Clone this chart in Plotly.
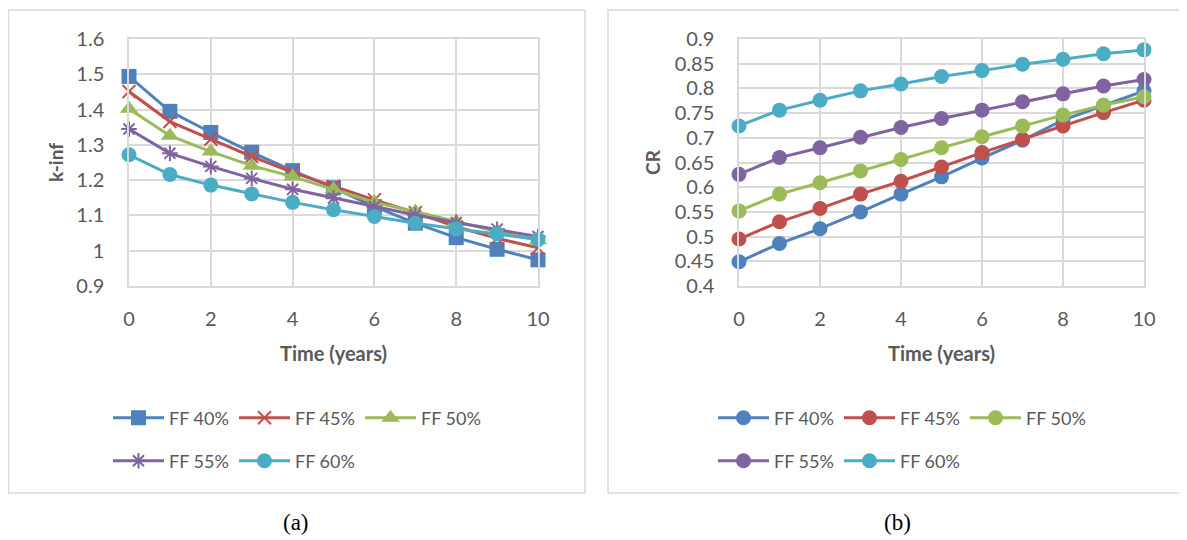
import plotly.graph_objects as go

# ---------------- data ----------------
years = [0, 1, 2, 3, 4, 5, 6, 7, 8, 9, 10]
series_names = ["FF 40%", "FF 45%", "FF 50%", "FF 55%", "FF 60%"]

kinf_ff40 = [1.494, 1.395, 1.335, 1.279, 1.227, 1.178, 1.125, 1.078, 1.037, 1.004, 0.974]
kinf_ff45 = [1.451, 1.366, 1.316, 1.267, 1.222, 1.182, 1.144, 1.108, 1.068, 1.035, 1.008]
kinf_ff50 = [1.402, 1.326, 1.281, 1.241, 1.210, 1.174, 1.137, 1.111, 1.083, 1.054, 1.030]
kinf_ff55 = [1.345, 1.276, 1.239, 1.205, 1.174, 1.149, 1.125, 1.101, 1.080, 1.061, 1.040]
kinf_ff60 = [1.272, 1.216, 1.186, 1.161, 1.137, 1.116, 1.097, 1.078, 1.062, 1.048, 1.032]

cr_ff40 = [0.449, 0.486, 0.516, 0.550, 0.586, 0.621, 0.659, 0.695, 0.736, 0.766, 0.795]
cr_ff45 = [0.495, 0.530, 0.557, 0.586, 0.612, 0.641, 0.670, 0.697, 0.724, 0.751, 0.776]
cr_ff50 = [0.552, 0.586, 0.609, 0.633, 0.656, 0.680, 0.702, 0.724, 0.746, 0.766, 0.783]
cr_ff55 = [0.626, 0.660, 0.680, 0.701, 0.721, 0.739, 0.756, 0.773, 0.789, 0.805, 0.818]
cr_ff60 = [0.724, 0.756, 0.776, 0.795, 0.809, 0.824, 0.836, 0.849, 0.859, 0.870, 0.878]

x_ticks = [0, 2, 4, 6, 8, 10]
x_ticklabels = ["0", "2", "4", "6", "8", "10"]
kinf_ticks = [0.9, 1.0, 1.1, 1.2, 1.3, 1.4, 1.5, 1.6]
kinf_ticklabels = ["0.9", "1", "1.1", "1.2", "1.3", "1.4", "1.5", "1.6"]
cr_ticks = [0.4, 0.45, 0.5, 0.55, 0.6, 0.65, 0.7, 0.75, 0.8, 0.85, 0.9]
cr_ticklabels = ["0.4", "0.45", "0.5", "0.55", "0.6", "0.65", "0.7", "0.75", "0.8", "0.85", "0.9"]

# ---------------- style ----------------
# the page body adds an 8 px margin, so the figure is 8 px smaller on each side
OFF = 8
W, H = 1187 - OFF, 540 - OFF
colors = ["#4F81BD", "#C0504D", "#9BBB59", "#8064A2", "#4BACC6"]
kinf_symbols = ["square", "x-thin", "triangle-up", "asterisk", "circle"]
kinf_sizes = [15, 13, 16, 13, 15]
FONT = "Lato"
TXT = "#595959"
GRID = "#d9d9d9"

def px(x):
    return (x - OFF) / W

def py(y):
    return 1 - (y - OFF) / H

fig = go.Figure()

kinf_data = [kinf_ff40, kinf_ff45, kinf_ff50, kinf_ff55, kinf_ff60]
cr_data = [cr_ff40, cr_ff45, cr_ff50, cr_ff55, cr_ff60]

for i, (name, vals) in enumerate(zip(series_names, kinf_data)):
    sym = kinf_symbols[i]
    line_sym = sym in ("x-thin", "asterisk")
    fig.add_trace(go.Scatter(
        x=years, y=vals, name=name, mode="lines+markers",
        xaxis="x", yaxis="y", cliponaxis=False,
        line=dict(color=colors[i], width=3),
        marker=dict(symbol=sym, size=kinf_sizes[i], color=colors[i],
                    line=dict(color=colors[i], width=2 if line_sym else 0)),
        legend="legend" if i < 3 else "legend2",
    ))

for i, (name, vals) in enumerate(zip(series_names, cr_data)):
    fig.add_trace(go.Scatter(
        x=years, y=vals, name=name, mode="lines+markers",
        xaxis="x2", yaxis="y2", cliponaxis=False,
        line=dict(color=colors[i], width=3),
        marker=dict(symbol="circle", size=15, color=colors[i]),
        legend="legend3" if i < 3 else "legend4",
    ))

ydom = [py(286), py(39)]
axis_common = dict(
    showgrid=True, gridcolor=GRID, gridwidth=1.5, zeroline=False,
    showline=True, linecolor=GRID, linewidth=1.5, mirror=True,
    tickfont=dict(family=FONT, size=20, color=TXT), ticks="",
    fixedrange=True, automargin=False,
)
xcommon = dict(axis_common, range=[0, 10], tickmode="array",
               tickvals=x_ticks, ticktext=x_ticklabels, ticklabelstandoff=14,
               title=dict(text="<b>Time (years)</b>", standoff=18,
                          font=dict(family=FONT, size=20, color=TXT)))

legend_common = dict(
    orientation="h", font=dict(family=FONT, size=18, color=TXT),
    bgcolor="rgba(0,0,0,0)", xanchor="left", yanchor="middle",
    xref="container", yref="container",
    itemwidth=51, itemclick=False, itemdoubleclick=False,
    entrywidth=60, entrywidthmode="pixels",
)

fig.update_layout(
    template="none",
    width=W, height=H,
    margin=dict(l=0, r=0, t=0, b=0, pad=0, autoexpand=False),
    paper_bgcolor="white", plot_bgcolor="white",
    font=dict(family=FONT, color=TXT),
    hovermode="closest",
    xaxis=dict(xcommon, domain=[px(129), px(538)], anchor="y"),
    yaxis=dict(axis_common, domain=ydom, anchor="x", range=[0.9, 1.6],
               tickmode="array", tickvals=kinf_ticks, ticktext=kinf_ticklabels,
               ticklabelstandoff=19,
               title=dict(text="<b>k-inf</b>", standoff=8,
                          font=dict(family=FONT, size=19, color=TXT))),
    xaxis2=dict(xcommon, domain=[px(739), px(1144)], anchor="y2"),
    yaxis2=dict(axis_common, domain=ydom, anchor="x2", range=[0.4, 0.9],
                tickmode="array", tickvals=cr_ticks, ticktext=cr_ticklabels,
                ticklabelstandoff=19,
                title=dict(text="<b>CR</b>", standoff=9,
                           font=dict(family=FONT, size=19, color=TXT))),
    legend=dict(legend_common, x=px(108), y=py(418)),
    legend2=dict(legend_common, x=px(108), y=py(461)),
    legend3=dict(legend_common, x=px(713), y=py(418)),
    legend4=dict(legend_common, x=px(713), y=py(461)),
    shapes=[
        dict(type="rect", xref="paper", yref="paper",
             x0=px(8.5), x1=px(585), y0=py(493), y1=py(10),
             line=dict(color=GRID, width=1.5), fillcolor="rgba(0,0,0,0)", layer="below"),
        dict(type="rect", xref="paper", yref="paper",
             x0=px(608), x1=px(1186), y0=py(493), y1=py(10),
             line=dict(color=GRID, width=1.5), fillcolor="rgba(0,0,0,0)", layer="below"),
    ],
    annotations=[
        dict(text="(a)", xref="paper", yref="paper", x=px(296), y=py(522),
             showarrow=False, xanchor="center", yanchor="middle",
             font=dict(family="Liberation Serif", size=23, color="black")),
        dict(text="(b)", xref="paper", yref="paper", x=px(897), y=py(522),
             showarrow=False, xanchor="center", yanchor="middle",
             font=dict(family="Liberation Serif", size=23, color="black")),
    ],
)

fig.write_html("out.html")
